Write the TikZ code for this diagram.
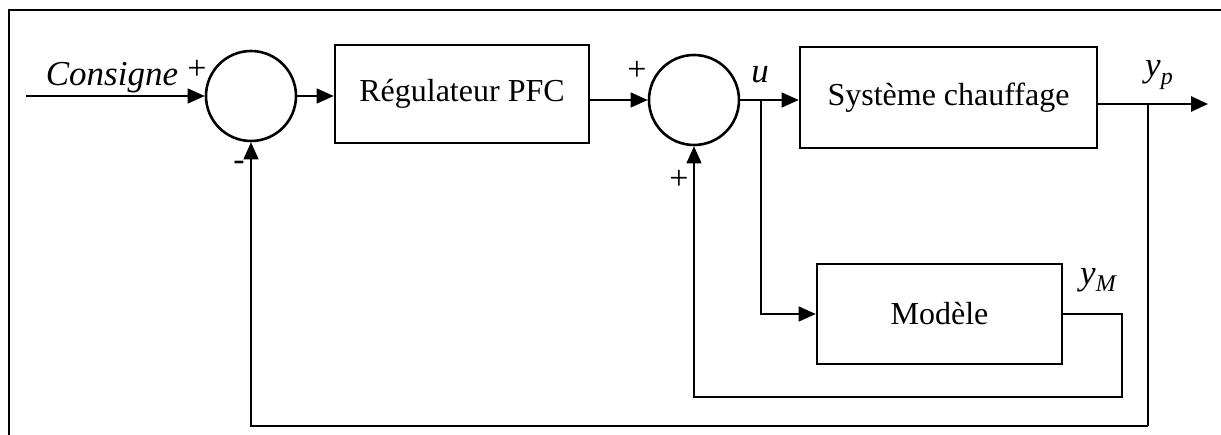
\documentclass[tikz,border=0pt]{standalone}
\usepackage{fontspec}
\setmainfont{Liberation Serif}
\usetikzlibrary{arrows.meta}
\tikzset{
  blk/.style={draw, line width=2.6pt, inner sep=0pt, font=\fontsize{32}{38}\selectfont},
  sumc/.style={draw, circle, line width=2.6pt, minimum size=90pt, inner sep=0pt},
  conn/.style={line width=1.3pt},
  arr/.style={conn, -{Triangle[length=17pt,width=15pt]}},
  thk/.style={line width=2.6pt},
  lbl/.style={inner sep=0pt, font=\fontsize{35}{40}\selectfont\itshape},
  sgn/.style={inner sep=0pt, font=\fontsize{34}{38}\selectfont}
}
\newcommand{\subsc}[1]{\raisebox{-0.22em}{\fontsize{24}{26}\selectfont\itshape #1}}
\begin{document}
\begin{tikzpicture}[x=1pt,y=-1pt]
\useasboundingbox (0,0) rectangle (1221,435);
\clip (0,0) rectangle (1221,435);
\draw[thk] (9,445) -- (9,10) -- (1230,10);

% blocks
\node[sumc] (s1) at (251,96) {};
\node[blk, minimum width=254pt, minimum height=98pt] (reg) at (462,94) {Régulateur PFC};
\node[sumc] (s2) at (694,100) {};
\node[blk, minimum width=297pt, minimum height=101pt] (sys) at (948.5,97.5) {Système chauffage};
\node[blk, minimum width=245pt, minimum height=100pt] (mod) at (939.5,314) {Modèle};

% coordinates
\coordinate (in) at (26,96);
\coordinate (br) at (761,100);
\coordinate (yout) at (1208,104);
\coordinate (fb) at (1148,104);
\coordinate (c1) at (1148,426);
\coordinate (c2) at (1122,397);

% connectors
\draw[arr] (in) -- (s1.west);
\draw[arr] (s1.east) -- (s1.east -| reg.west);
\draw[arr] (reg.east |- s2.west) -- (s2.west);
\draw[arr] (s2.east) -- (s2.east -| sys.west);
\draw[arr] (br) |- (mod.west);
\draw[thk, -{Triangle[length=17pt,width=15pt]}] (sys.east |- yout) -- (yout);
\draw[thk] (fb) -- (c1);
\draw[arr] (c1) -| (s1.south);
\draw[arr] (mod.east) -| (c2) -| (s2.south);

% labels
\node[lbl] (lcons) at (112,78) {Consigne};
\node[sgn] (p1) at (197,70) {+};
\node[sgn] (m1) at (239,166) {-};
\node[sgn] (p2) at (637,71) {+};
\node[sgn] (p3) at (679,180) {+};
\node[lbl] (lu) at (760,75) {u};
\node[lbl] (lyp) at (1159,75) {y\subsc{p}};
\node[lbl] (lym) at (1098,280) {y\subsc{M}};
\end{tikzpicture}
\end{document}
